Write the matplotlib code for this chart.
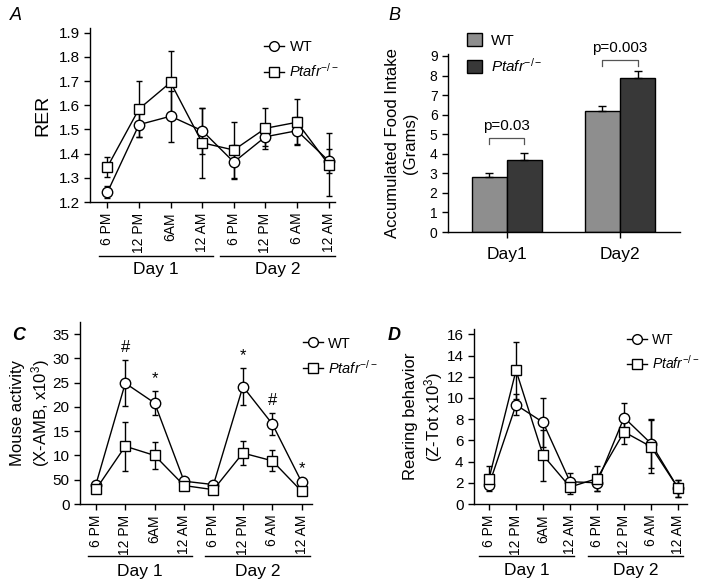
import matplotlib
matplotlib.use('Agg')
import matplotlib.pyplot as plt
from matplotlib.lines import Line2D
from matplotlib.patches import Patch
import numpy as np

plt.rcParams['font.family'] = ['Liberation Sans', 'DejaVu Sans']
plt.rcParams['mathtext.fontset'] = 'custom'
plt.rcParams['mathtext.rm'] = 'Liberation Sans'
plt.rcParams['mathtext.it'] = 'Liberation Sans:italic'
plt.rcParams['xtick.direction'] = 'out'
plt.rcParams['ytick.direction'] = 'out'
plt.rcParams['axes.linewidth'] = 1.0

# time points
times_a = ['6 PM', '12 PM', '6AM', '12 AM', '6 PM', '12 PM', '6 AM', '12 AM']
days = ['Day 1', 'Day 2']
ko_label = r'$\mathit{Ptafr}^{-/-}$'

# panel A - RER
rer_wt = [1.24, 1.52, 1.555, 1.495, 1.365, 1.47, 1.495, 1.37]
rer_wt_err = [0.025, 0.05, 0.105, 0.095, 0.07, 0.04, 0.055, 0.05]
rer_ko = [1.345, 1.585, 1.695, 1.445, 1.415, 1.505, 1.53, 1.355]
rer_ko_err = [0.04, 0.115, 0.13, 0.145, 0.115, 0.085, 0.095, 0.13]

# panel B - food intake
food_days = ['Day1', 'Day2']
food_wt = [2.82, 6.2]
food_wt_err = [0.22, 0.22]
food_ko = [3.7, 7.88]
food_ko_err = [0.35, 0.35]
food_p = ['p=0.03', 'p=0.003']
food_bracket = [4.8, 8.8]

# panel C - activity
act_wt = [4.0, 24.9, 20.8, 4.7, 4.0, 24.2, 16.5, 4.5]
act_wt_err = [0.3, 4.8, 2.5, 0.4, 0.3, 3.8, 2.3, 0.3]
act_ko = [3.0, 11.9, 10.0, 3.8, 2.95, 10.5, 8.9, 2.6]
act_ko_err = [0.3, 5.0, 2.8, 0.4, 0.3, 2.5, 2.2, 0.2]
act_sig = ['', '#', '*', '', '', '*', '#', '*']
act_yticks = [0, 5, 10, 15, 20, 25, 30, 35]
act_yticklabels = ['0', '50', '10', '15', '20', '25', '30', '35']

# panel D - rearing
rear_wt = [1.8, 9.35, 7.7, 2.1, 2.0, 8.15, 5.7, 1.5]
rear_wt_err = [0.3, 1.0, 2.3, 0.8, 0.8, 1.4, 2.3, 0.8]
rear_ko = [2.4, 12.6, 4.6, 1.6, 2.4, 6.8, 5.4, 1.5]
rear_ko_err = [1.2, 2.7, 2.4, 0.7, 1.15, 1.1, 2.5, 0.8]

fig = plt.figure(figsize=(7.01, 5.86), dpi=100)


def style_axes(ax):
    ax.spines['top'].set_visible(False)
    ax.spines['right'].set_visible(False)
    ax.tick_params(labelsize=10, length=4, width=1)


def time_course(ax, wt, wt_err, ko, ko_err, xlim, ylim):
    x = np.arange(len(wt))
    ax.errorbar(x, wt, yerr=wt_err, fmt='-o', color='black', mfc='white', mec='black',
                ms=7.5, lw=1, elinewidth=1, capsize=2.5, capthick=1, zorder=3)
    ax.errorbar(x, ko, yerr=ko_err, fmt='-s', color='black', mfc='white', mec='black',
                ms=7.5, lw=1, elinewidth=1, capsize=2.5, capthick=1, zorder=3)
    ax.set_xlim(*xlim)
    ax.set_ylim(*ylim)
    ax.set_xticks(x)
    ax.set_xticklabels(times_a, rotation=90, fontsize=10.5)
    style_axes(ax)
    return x


def day_lines(ax, spans, line_y, text_y):
    trans = ax.get_xaxis_transform()
    for (x0, x1), d in zip(spans, days):
        ax.plot([x0, x1], [line_y, line_y], color='black', lw=1, transform=trans, clip_on=False)
        ax.text((x0 + x1) / 2, text_y, d, transform=trans, ha='center', va='center', fontsize=12.5)


def series_legend(ax, anchor, size=10.5):
    h = [Line2D([], [], color='black', marker='o', mfc='white', ms=7, lw=1),
         Line2D([], [], color='black', marker='s', mfc='white', ms=7, lw=1)]
    ax.legend(h, ['WT', ko_label], loc='upper left', bbox_to_anchor=anchor, frameon=False,
              fontsize=size, handlelength=1.4, handletextpad=0.35, labelspacing=0.55,
              borderaxespad=0, borderpad=0)


# ---- A ----
axA = fig.add_axes([90 / 701, 1 - 202 / 586, 245 / 701, 174 / 586])
time_course(axA, rer_wt, rer_wt_err, rer_ko, rer_ko_err, (-0.55, 7.2), (1.2, 1.92))
axA.set_yticks(np.arange(1.2, 1.91, 0.1))
axA.set_yticklabels(['%.1f' % v for v in np.arange(1.2, 1.91, 0.1)], fontsize=11)
axA.set_ylabel('RER', fontsize=14, labelpad=5)
day_lines(axA, [(-0.25, 3.34), (3.56, 7.19)], -0.31, -0.39)
series_legend(axA, (0.71, 0.93))
fig.text(10 / 701, 1 - 16 / 586, 'A', fontsize=13, style='italic', va='center')

# ---- B ----
axB = fig.add_axes([448 / 701, 1 - 232 / 586, 232 / 701, 178 / 586])
xb = np.arange(len(food_days))
w = 0.31
axB.bar(xb - w / 2, food_wt, w, color='#8e8e8e', edgecolor='black', lw=1, zorder=2)
axB.bar(xb + w / 2, food_ko, w, color='#383838', edgecolor='black', lw=1, zorder=2)
axB.errorbar(xb - w / 2, food_wt, yerr=[[0] * 2, food_wt_err], fmt='none', ecolor='black',
             elinewidth=1, capsize=3, capthick=1, zorder=3)
axB.errorbar(xb + w / 2, food_ko, yerr=[[0] * 2, food_ko_err], fmt='none', ecolor='black',
             elinewidth=1, capsize=3, capthick=1, zorder=3)
for xi, yb, p in zip(xb, food_bracket, food_p):
    axB.plot([xi - w / 2, xi - w / 2, xi + w / 2, xi + w / 2], [yb - 0.3, yb, yb, yb - 0.3],
             color='#555555', lw=0.9, clip_on=False)
    axB.text(xi, yb + 0.25, p, ha='center', va='bottom', fontsize=11)
axB.set_xlim(-0.52, 1.53)
axB.set_ylim(0, 9.1)
axB.set_yticks(range(10))
axB.set_xticks(xb)
axB.set_xticklabels(food_days, fontsize=12.5)
style_axes(axB)
axB.tick_params(axis='x', labelsize=12.5, pad=7)
axB.set_ylabel('Accumulated Food Intake\n(Grams)', fontsize=12, linespacing=1.25)
axB.yaxis.set_label_coords(-0.13, 0.5)
hB = [Patch(facecolor='#8e8e8e', edgecolor='black'), Patch(facecolor='#383838', edgecolor='black')]
axB.legend(hB, ['WT', ko_label], loc='upper left', bbox_to_anchor=(0.08, 1.12), frameon=False,
           fontsize=11, handlelength=1.0, handleheight=1.0, handletextpad=0.6, labelspacing=0.6,
           borderaxespad=0, borderpad=0)
fig.text(388 / 701, 1 - 16 / 586, 'B', fontsize=13, style='italic', va='center')

# ---- C ----
axC = fig.add_axes([80 / 701, 1 - 504 / 586, 232 / 701, 182 / 586])
xc = time_course(axC, act_wt, act_wt_err, act_ko, act_ko_err, (-0.54, 7.35), (0, 37.5))
axC.set_yticks(act_yticks)
axC.set_yticklabels(act_yticklabels, fontsize=11)
for xi, v, e, s in zip(xc, act_wt, act_wt_err, act_sig):
    if s:
        axC.text(xi, v + e + 1.0, s, ha='center', va='bottom', fontsize=12)
axC.set_ylabel('Mouse activity\n(X-AMB, x10$^3$)', fontsize=12, linespacing=1.25)
axC.yaxis.set_label_coords(-0.12, 0.5)
day_lines(axC, [(-0.27, 3.27), (3.71, 7.28)], -0.286, -0.37)
series_legend(axC, (0.96, 0.92))
fig.text(12 / 701, 1 - 335 / 586, 'C', fontsize=13, style='italic', weight='bold', va='center')

# ---- D ----
axD = fig.add_axes([474 / 701, 1 - 504 / 586, 213 / 701, 175 / 586])
time_course(axD, rear_wt, rear_wt_err, rear_ko, rear_ko_err, (-0.556, 7.33), (0, 16.5))
axD.set_yticks(range(0, 17, 2))
axD.set_yticklabels([str(v) for v in range(0, 17, 2)], fontsize=11)
axD.set_ylabel('Rearing behavior\n(Z-Tot x10$^3$)', fontsize=12, linespacing=1.25)
axD.yaxis.set_label_coords(-0.135, 0.5)
day_lines(axD, [(-0.37, 3.15), (3.67, 7.19)], -0.297, -0.38)
series_legend(axD, (0.72, 0.98), size=10)
fig.text(388 / 701, 1 - 335 / 586, 'D', fontsize=13, style='italic', weight='bold', va='center')

fig.savefig('out.png', dpi=100)
